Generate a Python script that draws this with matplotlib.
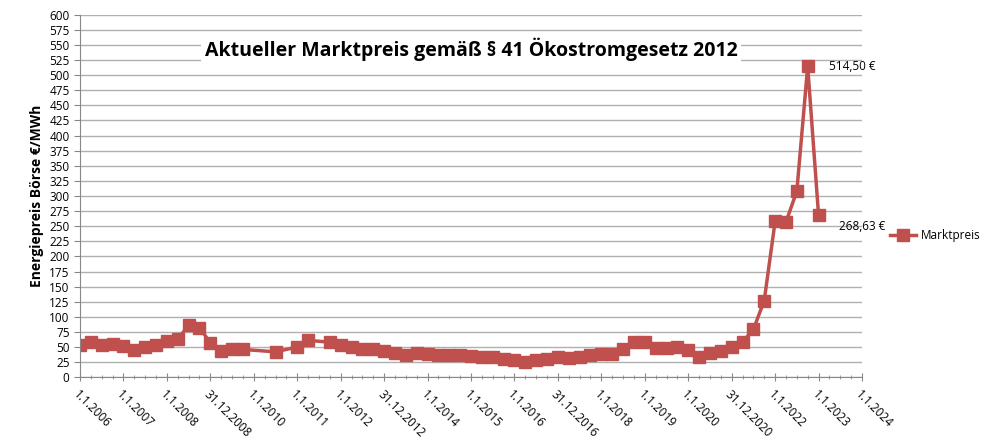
import matplotlib.pyplot as plt
import numpy as np

# quarterly prices, EUR/MWh
t_early = [2006 + 0.25 * i for i in range(16)] + [2010.5, 2011.0, 2011.25]
p_early = [53, 58, 54, 55, 52, 45, 50, 53, 60, 63, 86, 82, 57, 44, 46, 46, 42, 50, 61]
t_late = [2011.75 + 0.25 * i for i in range(46)]
p_late = [58, 54, 50, 47, 47, 44, 40, 37, 40, 39, 36, 36, 36, 35, 34, 33, 30, 29, 25, 29,
          30, 34, 32, 34, 37, 39, 38, 46, 58, 58, 48, 49, 50, 45, 33, 40, 43, 50, 58, 79,
          127, 258, 257, 308, 514.5, 268.63]
tick_labels = ['1.1.2006', '1.1.2007', '1.1.2008', '31.12.2008', '1.1.2010', '1.1.2011',
               '1.1.2012', '31.12.2012', '1.1.2014', '1.1.2015', '1.1.2016', '31.12.2016',
               '1.1.2018', '1.1.2019', '1.1.2020', '31.12.2020', '1.1.2022', '1.1.2023',
               '1.1.2024']

plt.rcParams['font.family'] = ['Open Sans', 'DejaVu Sans']
t = t_early + t_late
p = p_early + p_late
red = '#c0504d'

fig = plt.figure(figsize=(10, 4.48), dpi=100)
ax = fig.add_axes([0.08, 0.158, 0.782, 0.809])
ax.plot(t, p, color=red, lw=2.5, marker='s', ms=9, label='Marktpreis')

ax.set_xlim(2006, 2024)
ax.set_ylim(0, 600)
ax.set_yticks(np.arange(0, 601, 25))
ax.set_xticks(np.arange(2006, 2025))
ax.set_xticklabels(tick_labels, rotation=-45, ha='left', rotation_mode='anchor')
ax.set_xticks(np.arange(2006, 2024, 0.25), minor=True)
ax.tick_params(labelsize=8.5, color='#888888')
ax.tick_params(axis='x', which='major', length=6, direction='inout', pad=5)
ax.tick_params(axis='x', which='minor', length=3, direction='inout', color='#888888')
ax.tick_params(axis='y', length=4)
ax.grid(axis='y', color='#b0b0b0', lw=1)
ax.set_axisbelow(True)
for s in ['top', 'right']:
    ax.spines[s].set_visible(False)
for s in ['left', 'bottom']:
    ax.spines[s].set_color('#888888')
ax.set_ylabel('Energiepreis Börse €/MWh', fontsize=10, fontweight='bold')

ax.text(0.5, 0.905, 'Aktueller Marktpreis gemäß § 41 Ökostromgesetz 2012', transform=ax.transAxes,
        ha='center', va='center', fontsize=14, fontweight='bold',
        bbox=dict(facecolor='white', edgecolor='none', pad=3))
ax.annotate('514,50 €', (t[-2], p[-2]), xytext=(15, 0), textcoords='offset points',
            va='center', fontsize=8.5)
ax.annotate('268,63 €', (t[-1], p[-1]), xytext=(15, -8), textcoords='offset points',
            va='center', fontsize=8.5)

fig.legend(loc='center left', bbox_to_anchor=(0.89, 0.475), frameon=False, fontsize=8.5,
           handlelength=2.2, handletextpad=0.4, borderaxespad=0, borderpad=0)
fig.savefig('out.png')
